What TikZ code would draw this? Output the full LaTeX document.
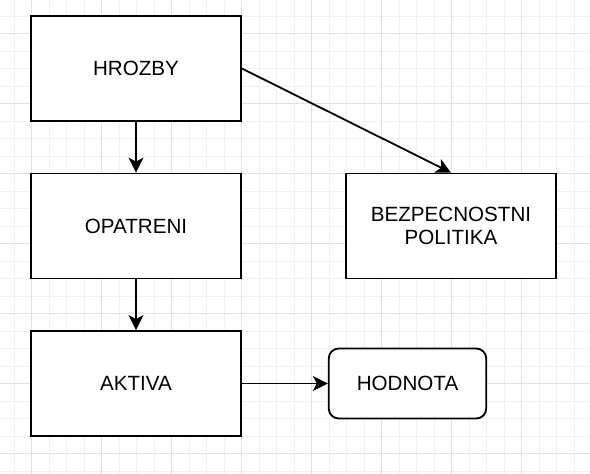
\documentclass[tikz,border=0pt]{standalone}
\usepackage{fontspec}
\setmainfont{Liberation Sans}
\usepackage{tikz}
\usetikzlibrary{arrows.meta,positioning}
\definecolor{GridMinor}{HTML}{F1F1F1}
\definecolor{GridMajor}{HTML}{E2E2E2}
\definecolor{BoxInk}{HTML}{000000}

\begin{document}
\begin{tikzpicture}[
  x=1pt, y=-1pt,
  block/.style={draw=BoxInk, line width=1.8pt, fill=white,
                minimum width=210pt, minimum height=105pt,
                inner sep=0pt, align=center,
                font=\fontsize{20.6}{23.5}\selectfont},
  valuebox/.style={block, rounded corners=10pt,
                   minimum width=157.5pt, minimum height=70pt},
  link/.style={-{Stealth[length=15pt, width=15pt, inset=4pt]},
               line width=1.8pt, draw=BoxInk},
  gridminor/.style={draw=GridMinor, line width=0.9pt},
  gridmajor/.style={draw=GridMajor, line width=0.9pt}
]
\useasboundingbox (0,0) rectangle (590,474);
% background grid
\foreach \k in {-1,...,32}
  \draw[gridminor] ({31.5+17.5*\k},0) -- ++(0,474);
\foreach \k in {0,...,26}
  \draw[gridminor] (0,{16+17.5*\k}) -- ++(590,0);
\foreach \k in {0,...,7}
  \draw[gridmajor] ({31.5+70*\k},0) -- ++(0,474);
\foreach \k in {0,...,6}
  \draw[gridmajor] (0,{33.5+70*\k}) -- ++(590,0);
% boxes
\node[block] (hrozby) at (136,68.5) {HROZBY};
\node[block] (opatreni) at (136,226) {OPATRENI};
\node[block] (politika) at (451,226) {BEZPECNOSTNI\\POLITIKA};
\node[block] (aktiva) at (136,383.5) {AKTIVA};
\node[valuebox] (hodnota) at (407.5,383.5) {HODNOTA};
% arrows
\draw[link] (hrozby) -- (opatreni);
\draw[link] (hrozby.east) -- (politika.north);
\draw[link] (opatreni) -- (aktiva);
\draw[link] (aktiva) -- (hodnota);
\end{tikzpicture}
\end{document}
